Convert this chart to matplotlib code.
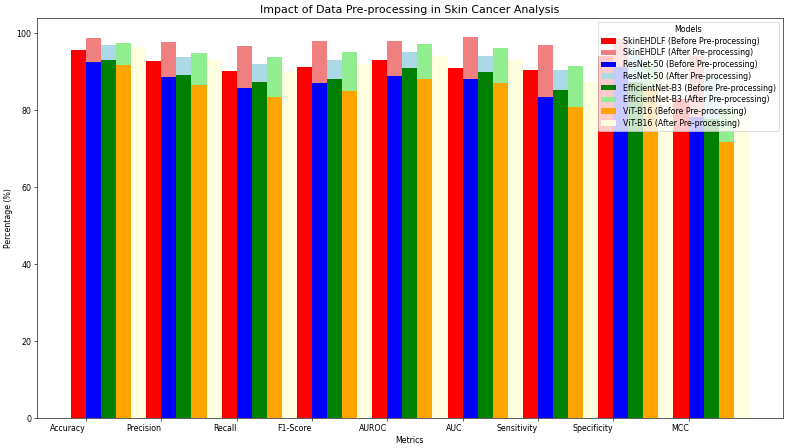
import matplotlib.pyplot as plt
import numpy as np

metrics = ['Accuracy', 'Precision', 'Recall', 'F1-Score', 'AUROC', 'AUC',
           'Sensitivity', 'Specificity', 'MCC']

models = ['SkinEHDLF', 'ResNet-50', 'EfficientNet-B3', 'ViT-B16']

skin_before = [95.8, 92.7, 90.2, 91.2, 93.0, 91.1, 90.6, 94.2, 83.0]
skin_after = [98.9, 97.7, 96.6, 98.1, 98.1, 99.1, 96.9, 98.5, 94.2]
resnet_before = [92.5, 88.6, 85.7, 87.2, 89.0, 88.1, 83.6, 91.2, 78.2]
resnet_after = [96.9, 93.8, 92.1, 93.1, 95.1, 94.2, 90.5, 94.6, 88.6]
eff_before = [93.0, 89.3, 87.4, 88.1, 91.1, 90.0, 85.3, 87.5, 77.7]
eff_after = [97.5, 95.0, 93.8, 95.1, 97.2, 96.2, 91.6, 92.5, 80.3]
vit_before = [91.8, 86.5, 83.5, 85.1, 88.1, 87.1, 80.9, 85.5, 71.8]
vit_after = [96.4, 93.0, 90.2, 92.1, 94.2, 93.1, 87.4, 90.0, 80.0]

before = [skin_before, resnet_before, eff_before, vit_before]
after = [skin_after, resnet_after, eff_after, vit_after]

before_colors = ['red', 'blue', 'green', 'orange']
after_colors = ['lightcoral', 'lightblue', 'lightgreen', 'lightyellow']

fig, ax = plt.subplots(figsize=(14, 7.96), dpi=56.3)

x = np.arange(len(metrics))
width = 0.2

# before bar, then after bar shifted one slot right (next model's before covers it)
for j, name in enumerate(models):
    ax.bar(x - width / 2 + j * width, before[j], width,
           color=before_colors[j], label=f'{name} (Before Pre-processing)')
    ax.bar(x + width / 2 + j * width, after[j], width,
           color=after_colors[j], label=f'{name} (After Pre-processing)')

ax.set_title('Impact of Data Pre-processing in Skin Cancer Analysis', fontsize=14)
ax.set_xlabel('Metrics')
ax.set_ylabel('Percentage (%)')
ax.set_xticks(x)
ax.set_xticklabels(metrics, ha='right')
ax.legend(title='Models', loc='upper right', labelspacing=0.35)

plt.subplots_adjust(left=0.047, right=0.993, top=0.96, bottom=0.066)
plt.savefig('out.png', dpi=56.3)
